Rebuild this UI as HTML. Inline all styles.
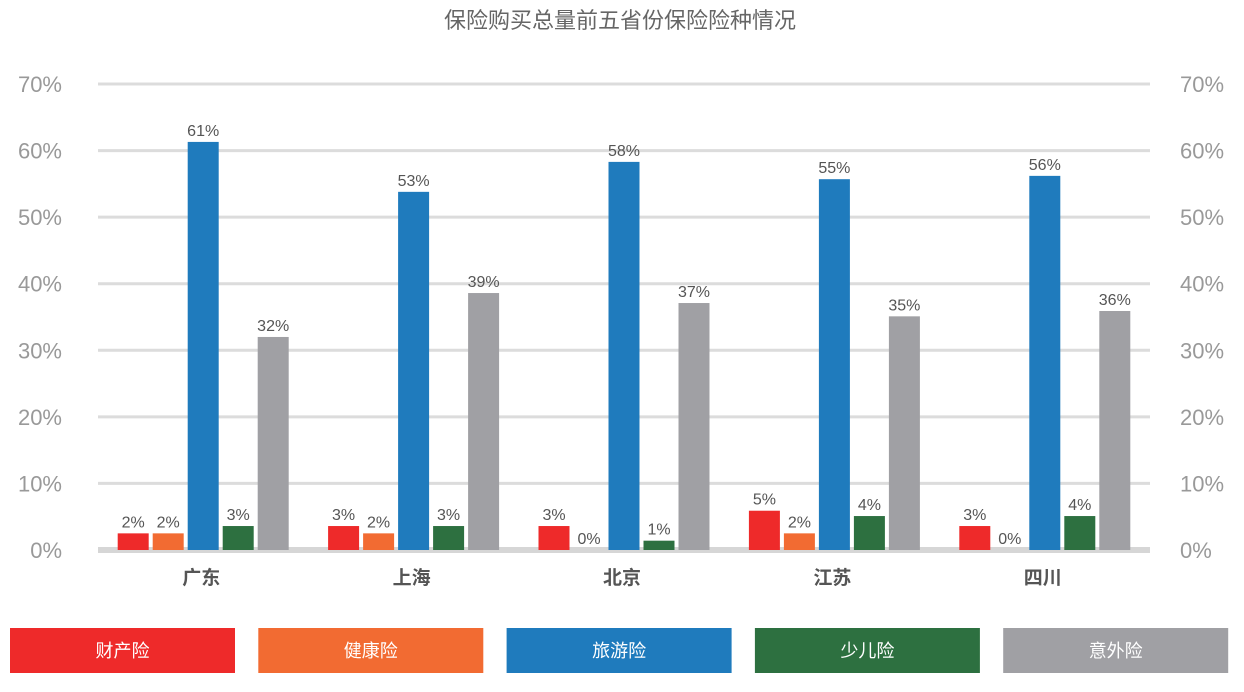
<!DOCTYPE html>
<html><head><meta charset="utf-8">
<style>
html,body{margin:0;padding:0;background:#fff;}
body{width:1244px;height:687px;overflow:hidden;font-family:"Liberation Sans","Noto Sans CJK SC",sans-serif;}
svg text{font-family:"Liberation Sans","Noto Sans CJK SC",sans-serif;}
</style></head>
<body>
<svg id="chart" width="1244" height="687" xmlns="http://www.w3.org/2000/svg">
<text x="620" y="28" text-anchor="middle" font-size="22" fill="#666">保险购买总量前五省份保险险种情况</text>
<g id="grid"></g><g id="bars"></g><g id="legend"></g>
</svg>
<script>
const categories = ["广东","上海","北京","江苏","四川"];
const seriesNames = ["财产险","健康险","旅游险","少儿险","意外险"];
const propertyVals = [2.5,3.6,3.6,5.9,3.6];
const healthVals = [2.5,2.5,0,2.5,0];
const travelVals = [61.3,53.8,58.3,55.7,56.2];
const childVals = [3.6,3.6,1.4,5.1,5.1];
const accidentVals = [32,38.6,37.1,35.1,35.9];
const propertyLabels = ["2%","3%","3%","5%","3%"];
const healthLabels = ["2%","2%","0%","2%","0%"];
const travelLabels = ["61%","53%","58%","55%","56%"];
const childLabels = ["3%","3%","1%","4%","4%"];
const accidentLabels = ["32%","39%","37%","35%","36%"];
const yTicks = [0,10,20,30,40,50,60,70];

const colors = ["#ee2a2a","#f26b32","#1f7bbd","#2d7040","#a0a0a4"];
const series = [propertyVals,healthVals,travelVals,childVals,accidentVals];
const labels = [propertyLabels,healthLabels,travelLabels,childLabels,accidentLabels];
const NS="http://www.w3.org/2000/svg";
const x0=98,x1=1150,y0=550,yTop=84,yMax=70;
const y = v => y0-(v/yMax)*(y0-yTop);
const groupW=(x1-x0)/categories.length;
const barW=31, step=35;
function mk(tag,attrs,parent){const e=document.createElementNS(NS,tag);for(const k in attrs)e.setAttribute(k,attrs[k]);parent.appendChild(e);return e;}
const grid=document.getElementById('grid'), bars=document.getElementById('bars'), legend=document.getElementById('legend');
yTicks.forEach(t=>{
  const ln=mk('line',{x1:x0,x2:x1,y1:y(t),y2:y(t),stroke:t===0?"#d6d6d6":"#dcdcdc","stroke-width":t===0?6:3},grid);
  
  
  const l=mk('text',{x:62,y:y(t)+8,"text-anchor":"end","font-size":22,fill:"#999"},grid);
  l.textContent=t+"%";
  
  
  const r=mk('text',{x:1180,y:y(t)+8,"text-anchor":"start","font-size":22,fill:"#999"},grid);
  r.textContent=t+"%";
  
  
});
categories.forEach((c,i)=>{
  const cx=x0+groupW*(i+0.5);
  const start=cx-(step*4+barW)/2;
  series.forEach((s,j)=>{
    const bx=start+j*step, v=s[i];
    if(v>0){
      const b=mk('rect',{x:bx,y:y(v),width:barW,height:y0-y(v),fill:colors[j]},bars);
      
      
    }
    const t=mk('text',{x:bx+barW/2,y:y(v)-6,"text-anchor":"middle","font-size":16,fill:"#555"},bars);
    t.textContent=labels[j][i];
    
    
  });
  const ct=mk('text',{x:cx-2,y:584,"text-anchor":"middle","font-size":19,"font-weight":"bold",fill:"#555"},bars);
  ct.textContent=c;
  
  
});
seriesNames.forEach((n,j)=>{
  const lx=10+j*248.3;
  const r=mk('rect',{x:lx,y:628,width:225,height:45,fill:colors[j]},legend);
  
  
  const t=mk('text',{x:lx+112.5,y:657,"text-anchor":"middle","font-size":18,fill:"#fff"},legend);
  t.textContent=n;
  
  
});
</script>
</body></html>
